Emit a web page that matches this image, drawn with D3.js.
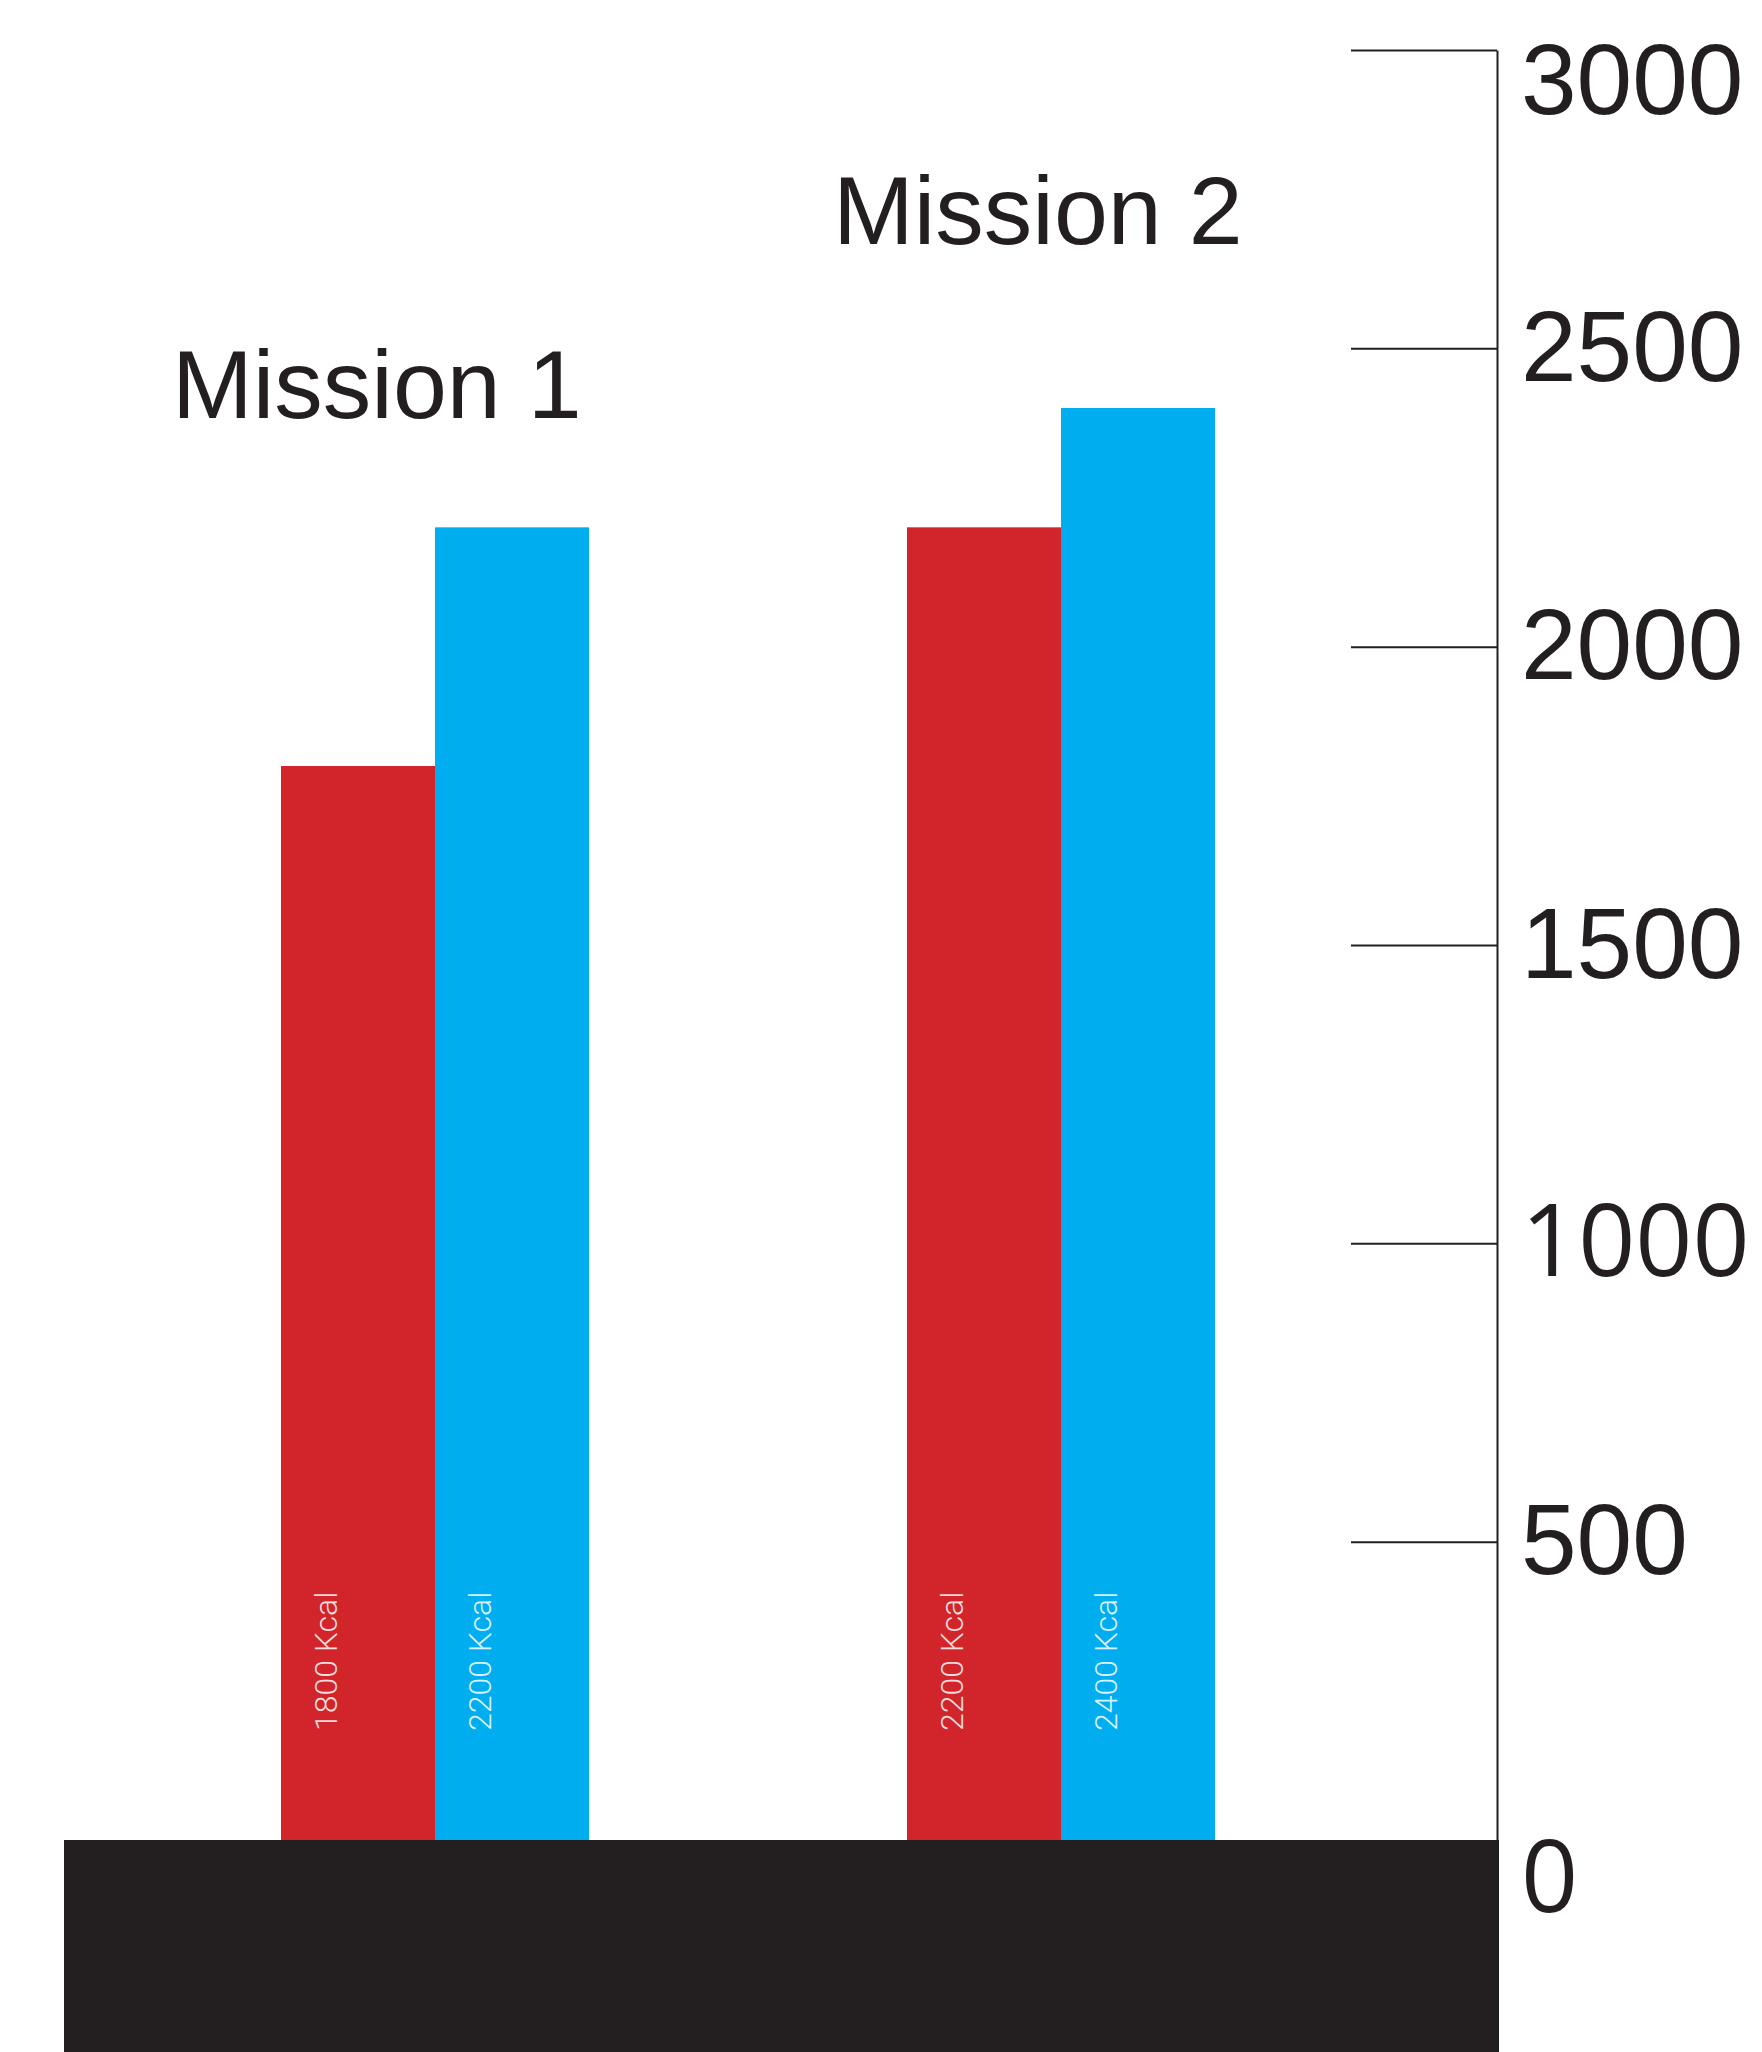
<!DOCTYPE html>
<html>
<head>
<meta charset="utf-8">
<script src="https://cdn.jsdelivr.net/npm/d3@7"></script>
<style>
  html, body { margin: 0; padding: 0; background: #ffffff; }
  svg { display: block; }
</style>
</head>
<body>
<svg id="chart" width="1762" height="2052"></svg>
<script>
// Daily intake per mission, in kilocalories
const missions = ["Mission 1", "Mission 2"];
const seriesKeys = ["red", "blue"];
const redValues = [1800, 2200];
const blueValues = [2200, 2400];
const tickValues = [0, 500, 1000, 1500, 2000, 2500, 3000];
const unitLabel = "Kcal";

const colors = { red: "#d2252b", blue: "#00aeef", ink: "#231f20" };
const W = 1762, H = 2052;

const rows = missions.map((m, i) => ({ mission: m, red: redValues[i], blue: blueValues[i] }));

const svg = d3.select("#chart");

// Scales
const y = d3.scaleLinear().domain([0, 3000]).range([1840, 50]);
const x0 = d3.scaleBand().domain(missions).range([281, 1215]).paddingInner(0.508).paddingOuter(0);
const x1 = d3.scaleBand().domain(seriesKeys).range([0, x0.bandwidth()]).padding(0);

// Right-hand value axis, ticks reaching left, labels to the right
const axisX = 1497;
const axis = d3.axisRight(y)
  .tickValues(tickValues)
  .tickSize(-146)
  .tickSizeOuter(0)
  .tickPadding(24)
  .tickFormat(d3.format("d"));

const gAxis = svg.append("g")
  .attr("transform", `translate(${axisX},0)`)
  .call(axis);

gAxis.select(".domain").attr("stroke", colors.ink).attr("stroke-width", 2);
gAxis.selectAll(".tick line")
  .attr("stroke", colors.ink)
  .attr("stroke-width", 2)
  .attr("display", d => d === 0 ? "none" : null);
gAxis.selectAll(".tick text")
  .attr("fill", colors.ink)
  .style("font-family", d => (d === 1000 || d === 0) ? "'Open Sans', sans-serif" : "'Liberation Sans', Arial, Helvetica, sans-serif")
  .style("font-size", "100px")
  .attr("dy", d => d === 3000 ? "63px" : d === 0 ? "71px" : "0.32em");

// Bars
const groups = svg.append("g").selectAll("g")
  .data(rows)
  .join("g")
  .attr("transform", d => `translate(${x0(d.mission)},0)`);

groups.selectAll("rect")
  .data(d => seriesKeys.map(k => ({ key: k, value: d[k] })))
  .join("rect")
  .attr("x", d => x1(d.key))
  .attr("y", d => y(d.value))
  .attr("width", x1.bandwidth())
  .attr("height", d => y(0) - y(d.value))
  .attr("fill", d => colors[d.key]);

// Vertical value labels inside the bars
groups.selectAll("text.val")
  .data(d => seriesKeys.map(k => ({ key: k, value: d[k] })))
  .join("text")
  .attr("class", "val")
  .attr("transform", d => `translate(${x1(d.key) + 56},${y(0) - 109}) rotate(-90)`)
  .attr("text-anchor", "start")
  .attr("fill", "#ffffff")
  .attr("fill-opacity", 0.85)
  .style("font-family", "Roboto, 'Noto Sans', sans-serif")
  .style("font-weight", 300)
  .style("font-size", "32px")
  .text(d => `${d.value} ${unitLabel}`);

// Mission titles
const titleLayout = [{ x: 172, y: 418 }, { x: 833, y: 244 }];
svg.append("g").selectAll("text")
  .data(missions)
  .join("text")
  .attr("x", (d, i) => titleLayout[i].x)
  .attr("y", (d, i) => titleLayout[i].y)
  .attr("fill", colors.ink)
  .style("font-family", "'Liberation Sans', Arial, Helvetica, sans-serif")
  .style("font-size", "97px")
  .text(d => d);

// Ground slab under the bars
svg.append("rect")
  .attr("x", 64)
  .attr("y", y(0))
  .attr("width", axisX + 2 - 64)
  .attr("height", H - y(0))
  .attr("fill", colors.ink);
</script>
</body>
</html>
